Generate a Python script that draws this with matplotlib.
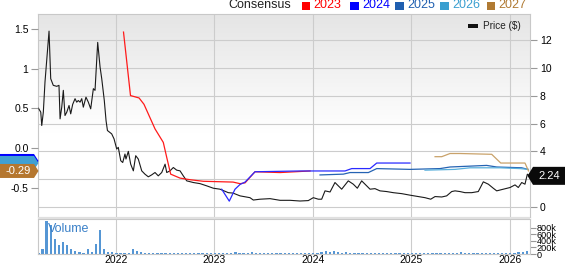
import numpy as np
import matplotlib
matplotlib.use('Agg')
import matplotlib.pyplot as plt
from matplotlib.patches import Polygon, Rectangle
from matplotlib.colors import LinearSegmentedColormap

plt.rcParams['font.family'] = ['Liberation Sans', 'DejaVu Sans']

# time is in decimal years
price_t = [2021.216, 2021.239, 2021.249, 2021.265, 2021.282, 2021.323, 2021.340, 2021.366,
           2021.401, 2021.424, 2021.435, 2021.452, 2021.468, 2021.485, 2021.503, 2021.526,
           2021.543, 2021.563, 2021.587, 2021.604, 2021.620, 2021.638, 2021.655, 2021.671,
           2021.698, 2021.722, 2021.746, 2021.773, 2021.790, 2021.817, 2021.841, 2021.858,
           2021.884, 2021.902, 2021.916, 2021.959, 2021.983, 2022.010, 2022.026, 2022.051,
           2022.071, 2022.094, 2022.104, 2022.128, 2022.152, 2022.179, 2022.203, 2022.229,
           2022.264, 2022.297, 2022.331, 2022.365, 2022.399, 2022.432, 2022.467, 2022.501,
           2022.518, 2022.551, 2022.585, 2022.619, 2022.653, 2022.686, 2022.721, 2022.788,
           2022.856, 2022.924, 2022.991, 2023.059, 2023.143, 2023.191, 2023.262, 2023.363,
           2023.397, 2023.465, 2023.567, 2023.668, 2023.770, 2023.871, 2023.955, 2024.006,
           2024.057, 2024.091, 2024.125, 2024.176, 2024.226, 2024.260, 2024.294, 2024.361,
           2024.412, 2024.453, 2024.497, 2024.548, 2024.582, 2024.632, 2024.683, 2024.751,
           2024.818, 2024.904, 2024.988, 2025.072, 2025.140, 2025.198, 2025.242, 2025.310,
           2025.360, 2025.411, 2025.445, 2025.495, 2025.546, 2025.614, 2025.681, 2025.732,
           2025.783, 2025.833, 2025.868, 2025.935, 2026.003, 2026.054, 2026.087, 2026.122,
           2026.155, 2026.179, 2026.199]
price = [7.10, 6.82, 5.86, 6.82, 9.0, 12.65, 9.23, 8.75,
         8.68, 8.75, 6.34, 7.18, 8.39, 6.58, 6.82, 7.30,
         6.70, 7.38, 7.79, 7.54, 7.66, 7.54, 7.79, 7.18,
         7.90, 7.54, 7.06, 8.51, 8.39, 11.84, 10.07, 9.23,
         7.66, 6.20, 5.50, 5.26, 4.90, 4.17, 4.29, 3.33,
         3.20, 3.81, 3.45, 4.00, 3.08, 2.60, 3.69, 3.45,
         2.60, 2.36, 2.17, 2.31, 2.48, 2.24, 2.48, 3.08,
         2.48, 2.60, 2.84, 2.65, 2.60, 2.24, 1.88, 1.76,
         1.68, 1.52, 1.35, 1.28, 1.03, 1.00, 0.80, 0.67,
         0.50, 0.56, 0.60, 0.48, 0.48, 0.43, 0.46, 0.67,
         0.56, 0.56, 1.16, 1.08, 1.76, 1.52, 1.28, 1.88,
         1.64, 1.35, 1.88, 1.52, 1.28, 1.32, 1.16, 1.11,
         1.03, 0.96, 0.85, 0.75, 0.67, 0.56, 0.75, 0.72,
         0.80, 1.11, 1.16, 1.11, 1.03, 1.03, 1.11, 1.81,
         1.64, 1.35, 1.16, 1.28, 1.40, 1.59, 1.40, 1.76,
         1.64, 2.36, 2.24]

# consensus EPS estimates per fiscal year
est_2023_t = [2022.079, 2022.150, 2022.237, 2022.287, 2022.399, 2022.483, 2022.518, 2022.558,
              2022.653, 2022.754, 2022.889, 2023.191, 2023.262, 2023.313, 2023.414, 2023.668,
              2023.973]
est_2023 = [1.46, 0.66, 0.63, 0.55, 0.24, 0.07, -0.12, -0.33,
            -0.38, -0.40, -0.42, -0.43, -0.45, -0.44, -0.30, -0.31, -0.29]

est_2024_t = [2023.076, 2023.153, 2023.211, 2023.262, 2023.313, 2023.414, 2023.871, 2024.328,
              2024.396, 2024.582, 2024.650, 2024.988]
est_2024 = [-0.52, -0.67, -0.52, -0.46, -0.43, -0.30, -0.29, -0.29,
            -0.26, -0.26, -0.19, -0.19]

est_2025_t = [2024.074, 2024.311, 2024.379, 2024.565, 2024.650, 2024.988, 2025.292, 2025.394,
              2025.766, 2025.868, 2026.122, 2026.186]
est_2025 = [-0.34, -0.33, -0.31, -0.31, -0.26, -0.27, -0.26, -0.24,
            -0.22, -0.24, -0.25, -0.27]

est_2026_t = [2025.140, 2025.445, 2025.597, 2025.901, 2026.104, 2026.186]
est_2026 = [-0.28, -0.27, -0.25, -0.25, -0.26, -0.27]

est_2027_t = [2025.242, 2025.310, 2025.394, 2025.495, 2025.817, 2025.909, 2026.155, 2026.191]
est_2027 = [-0.11, -0.11, -0.07, -0.07, -0.08, -0.19, -0.19, -0.29]

# volume in thousands, one bar per half month from vol_start
vol_start = 2021.215
volume_k = [40, 150, 1000, 880, 470, 260, 360, 260, 156, 100, 60, 40, 156, 60, 313, 730,
            156, 60, 50, 45, 40, 35, 40, 156, 90, 50, 40,
            45, 35, 40, 30, 35, 25, 30, 28, 35, 25, 30, 22, 25, 30, 25, 28, 22, 25, 30, 28, 35,
            60, 30, 25, 35, 50, 30, 25, 28, 22, 25, 30, 25, 22, 28, 25, 30, 25, 22, 30, 35, 40, 55,
            100, 60, 80, 55, 45, 50, 40, 35, 45, 40, 30, 35, 30, 28, 40, 30, 25, 30, 28, 25,
            25, 30, 28, 22, 25, 30, 28, 25, 30, 35, 28, 30, 40, 70, 35, 30, 28, 25, 30, 40,
            35, 30, 40, 45, 35, 30, 40, 50, 60, 100]

years = [2022, 2023, 2024, 2025, 2026]
eps_ticks = [1.5, 1.0, 0.5, 0.0, -0.5]
eps_labels = ['1.5', '1', '0.5', '0.0', '-0.5']
price_ticks = [0, 2, 4, 6, 8, 10, 12]
price_labels = ['0', '', '4', '6', '8', '10', '12']
vol_ticks = [0, 200, 400, 600, 800]
vol_labels = ['0', '200k', '400k', '600k', '800k']

series = [('2023', est_2023_t, est_2023, '#ff1a1a', '#ff0000'),
          ('2024', est_2024_t, est_2024, '#2a2aff', '#0000ff'),
          ('2025', est_2025_t, est_2025, '#2563b3', '#1f5fb0'),
          ('2026', est_2026_t, est_2026, '#5ab0dc', '#3a9fd0'),
          ('2027', est_2027_t, est_2027, '#c9a26a', '#b07a33')]

W, H = 565, 264
fig = plt.figure(figsize=(W / 100, H / 100), dpi=100)

def fx(x):
    return x / W

def fy(y):
    return 1 - y / H

L, R = 38.3, 530
grid_c = '#cccccc'
xlim = (2021.214, 2026.206)

ax = fig.add_axes([fx(L), fy(217), fx(R) - fx(L), fy(14.3) - fy(217)])
axv = fig.add_axes([fx(L), fy(254), fx(R) - fx(L), fy(219) - fy(254)])
ax2 = ax.twinx()

# background gradient of the price panel
grad = np.clip(np.linspace(0, 1.7, 200), 0, 1).reshape(-1, 1)
cmap = LinearSegmentedColormap.from_list('bg', ['#e5e5e5', '#ffffff'])
ax.imshow(grad, cmap=cmap, extent=[0, 1, 0, 1], transform=ax.transAxes,
          aspect='auto', zorder=0, vmin=0, vmax=1)

# price axis (right side)
ax.plot(price_t, price, color='#1a1a1a', lw=0.8, zorder=3)
ax.set_xlim(*xlim)
ax.set_ylim(-0.72, 13.86)
ax.yaxis.tick_right()
ax.yaxis.set_label_position('right')
ax.set_yticks(price_ticks)
ax.set_yticklabels(price_labels)
ax.set_xticks(years)
ax.set_xticklabels([])
ax.tick_params(axis='x', length=0)
ax.tick_params(axis='y', direction='out', length=5, color='#999999', labelsize=7.5, pad=2)
ax.grid(True, color=grid_c, lw=0.8, zorder=1)
for s in ax.spines.values():
    s.set_color('#c8c8c8')

# EPS axis (left side)
for name, t, v, lc, _ in series:
    ax2.plot(t, v, color=lc, lw=0.9, zorder=4)
ax2.set_xlim(*xlim)
ax2.set_ylim(-0.87, 1.684)
ax2.yaxis.tick_left()
ax2.yaxis.set_label_position('left')
ax2.set_yticks(eps_ticks)
ax2.set_yticklabels(eps_labels)
ax2.tick_params(axis='y', direction='out', length=5, color='#999999', labelsize=7.5, pad=2)
for s in ax2.spines.values():
    s.set_visible(False)

# volume panel
vol_t = vol_start + np.arange(len(volume_k)) / 24
axv.bar(vol_t, volume_k, width=1 / 24 * 0.55, color='#5596d4', zorder=2)
axv.set_xlim(*xlim)
axv.set_ylim(0, 1070)
axv.yaxis.tick_right()
axv.set_yticks(vol_ticks)
axv.set_yticklabels(vol_labels)
axv.tick_params(axis='y', direction='out', length=4, color='#999999', labelsize=6.6, pad=1)
axv.set_xticks(years)
axv.set_xticklabels([str(y) for y in years])
axv.tick_params(axis='x', length=0, labelsize=7.5, pad=0.5)
axv.grid(True, axis='x', color=grid_c, lw=0.8, zorder=1)
for s in axv.spines.values():
    s.set_color('#c8c8c8')
axv.text((48.3 - L) / (R - L), 0.7, 'Volume', transform=axv.transAxes,
         color='#3a80c8', fontsize=9, va='center', ha='left')

# separator band between panels
fig.add_artist(Rectangle((fx(L), fy(219.3)), fx(R) - fx(L), fy(216.8) - fy(219.3),
                         transform=fig.transFigure, color='#e0e0e0', lw=0))

# header legend
fig.text(fx(228), fy(5.5), 'Consensus', fontsize=9, va='center', ha='left', color='#222222')
sq_x = [301.5, 350, 395, 440, 486.5]
for (name, t, v, _, tc), sx in zip(series, sq_x):
    fig.add_artist(Rectangle((fx(sx), fy(9.8)), fx(8.5), fy(1.5) - fy(9.8),
                             transform=fig.transFigure, color=tc, lw=0))
    fig.text(fx(sx + 12), fy(5.5), name, fontsize=9, va='center', ha='left', color=tc)

# price legend
fig.add_artist(Rectangle((fx(467.5), fy(27.5)), fx(10), fy(23.5) - fy(27.5),
                         transform=fig.transFigure, color='#111111', lw=0))
fig.text(fx(483), fy(25.7), 'Price ($)', fontsize=7.2, va='center', ha='left', color='#222222')

# value tags
def to_px_y(axis, val):
    return H - axis.transData.transform((xlim[0], val))[1]

yc = to_px_y(ax, price[-1])
tag = [(527.5, yc), (533, yc - 9), (565, yc - 9), (565, yc + 9), (533, yc + 9)]
fig.add_artist(Polygon([(fx(a), fy(b)) for a, b in tag], closed=True,
                       transform=fig.transFigure, color='#0a0a0a', lw=0))
fig.text(fx(549.5), fy(yc), '%.2f' % price[-1], color='white', fontsize=8,
         va='center', ha='center')

yb = to_px_y(ax2, est_2027[-1])
for off, col in [(-10, '#0000ff'), (-8, '#40a0d2'), (0, '#b5772f')]:
    c = yb + off
    shape = [(0, c - 7), (34, c - 7), (38.5, c), (34, c + 7), (0, c + 7)]
    fig.add_artist(Polygon([(fx(a), fy(b)) for a, b in shape], closed=True,
                           transform=fig.transFigure, color=col, lw=0))
fig.text(fx(18), fy(yb), '%.2f' % est_2027[-1], color='white', fontsize=8,
         va='center', ha='center')

fig.savefig('out.png', dpi=100)
